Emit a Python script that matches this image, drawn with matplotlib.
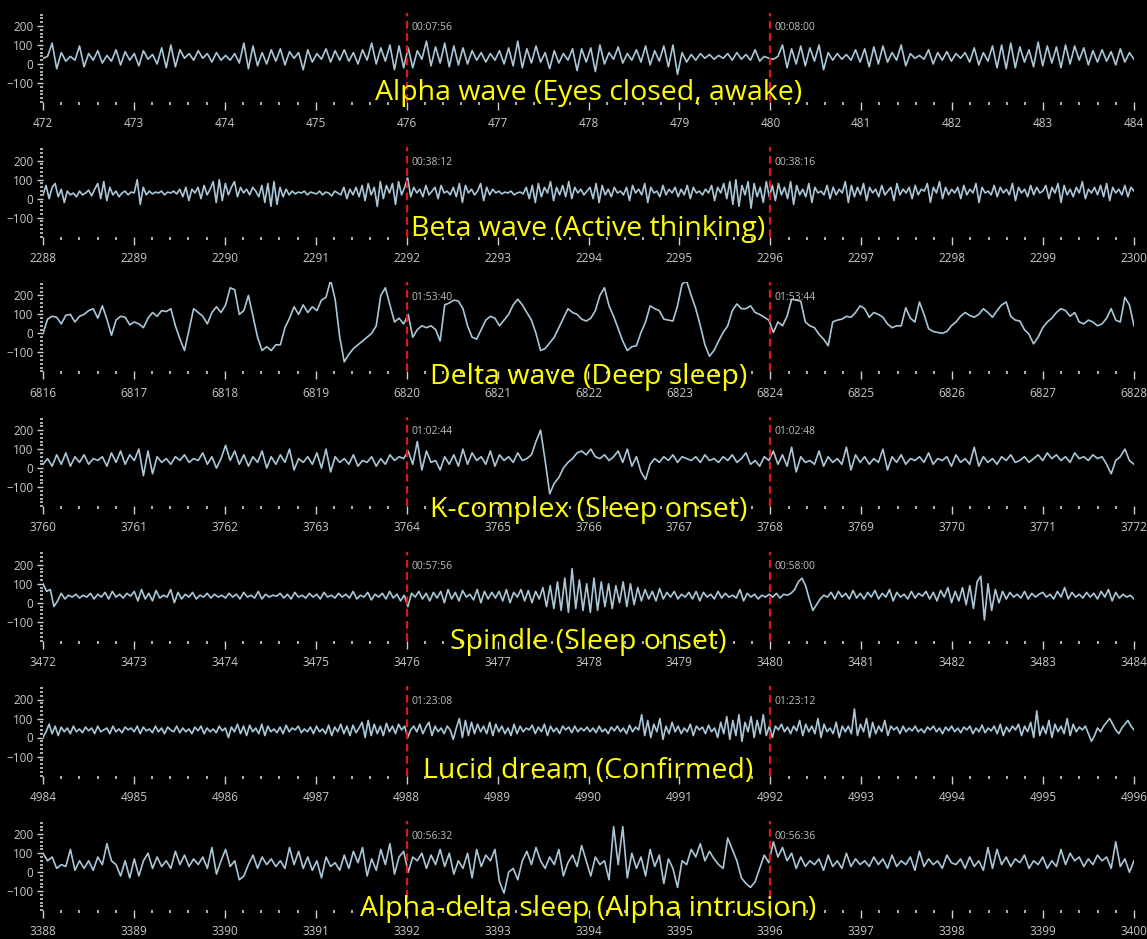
import numpy as np
import matplotlib
matplotlib.use("Agg")
import matplotlib.pyplot as plt
from matplotlib.ticker import MultipleLocator

# panel titles, window start (s) and event markers (s)
TITLES = [
    "Alpha wave (Eyes closed, awake)",
    "Beta wave (Active thinking)",
    "Delta wave (Deep sleep)",
    "K-complex (Sleep onset)",
    "Spindle (Sleep onset)",
    "Lucid dream (Confirmed)",
    "Alpha-delta sleep (Alpha intrusion)",
]
STARTS = [472, 2288, 6816, 3760, 3472, 4984, 3388]
MARKERS = [[476, 480], [2292, 2296], [6820, 6824], [3764, 3768],
           [3476, 3480], [4988, 4992], [3392, 3396]]
WINDOW = 12

# EEG amplitude (uV), one row per second
alpha = [
    30, 40, 110, -25, 60, 15, 40, 20, 95, -15, 55, 20, 70, 5, 45, 15, 75, -5, 65, 20,
    55, -10, 70, 25, 50, 0, 85, -20, 100, -15, 75, 30, 55, 20, 70, 30, 55, 10, 60, 20,
    45, 20, 55, 5, 110, -25, 95, -10, 60, 0, 75, 15, 80, -5, 65, 30, 60, -30, 75, 10,
    55, 25, 80, 10, 70, 20, 75, 15, 60, 0, 75, 20, 110, 0, 85, 15, 100, -30, 95, -20,
    85, -20, 70, 25, 120, -10, 90, 5, 110, -15, 95, -5, 85, 0, 70, 20, 60, 10, 55, 20,
    70, 0, 85, -10, 120, -20, 80, 5, 95, 10, 60, -25, 70, 5, 55, 20, 80, -35, 80, 10,
    85, -40, 100, 0, 60, 25, 90, 5, 55, 20, 75, 10, 95, -5, 70, 15, 95, -15, 100, -55,
    60, 10, 50, 20, 55, 30, 50, 25, 45, 30, 55, 20, 60, 25, 50, 20, 75, 15, 40, 30,
    25, 40, 100, -20, 80, 0, 95, -10, 85, 15, 100, -30, 60, 20, 55, 25, 50, 20, 75, 10,
    80, -15, 90, 0, 95, 10, 60, 20, 100, -10, 55, 30, 45, 25, 75, 0, 60, 20, 65, 15,
    55, 30, 60, 10, 85, -5, 60, 15, 95, -20, 100, -25, 110, -20, 90, 10, 75, -15, 115, -10,
    95, 5, 90, -20, 100, 0, 95, 20, 85, -5, 70, 10, 75, 15, 65, -5, 80, 10, 60, 25,
]

beta = [
    20, 70, 0, 60, 80, 10, 50, -20, 40, 20, 30, 10, 40, 20, 30, 45, 15, 50, 80, 0, 90, -10, 60, 20, 40, 10, 30, 40, 20, 35,
    30, 100, -30, 60, 20, 40, 25, 35, 30, 40, 20, 35, 30, 40, 25, 50, 10, 60, -10, 50, 30, 60, 0, 70, 20, 50, 90, -20, 100, -10,
    80, 20, 60, 90, 10, 60, 30, 50, 20, 60, 40, 10, 70, -20, 80, -40, 90, -30, 60, 10, 50, 20, 40, 25, 35, 30, 40, 20, 35, 30,
    25, 40, 20, 35, 30, 15, 40, 30, 20, 60, 0, 50, 20, 60, 10, 70, -10, 80, 20, 60, -40, 90, 0, 70, 30, 80, -30, 90, 20, 60,
    110, 10, 60, 30, 50, 10, 70, 20, 40, 60, 0, 70, 30, 40, 20, 60, 10, 80, -20, 70, 30, 50, 20, 40, 80, -10, 60, 20, 50, 30,
    40, 25, 35, 30, 40, 20, 30, 35, 25, 60, 0, 70, -20, 80, 10, 60, 30, 90, -10, 60, 20, 70, 10, 90, 0, 60, 30, 50, 20, 40,
    60, 0, 80, -20, 70, 20, 50, 10, 60, 30, 40, 20, 60, -10, 70, 30, 50, 20, 80, -20, 60, 30, 40, 10, 70, 20, 50, 30, 60, 10,
    50, 20, 70, 0, 60, 30, 40, 20, 50, 30, 70, -10, 60, 30, 80, 0, 90, -30, 100, -40, 70, 20, 90, -50, 80, 10, 60, -20, 90, 10,
    70, -10, 80, 20, 60, 0, 90, -30, 70, 20, 50, 10, 80, -20, 60, 30, 40, 20, 70, 0, 60, 20, 50, 30, 90, -20, 70, 10, 60, 20,
    80, -10, 60, 30, 50, 10, 70, 20, 40, 60, -10, 80, 20, 50, 30, 60, 0, 70, 20, 50, 40, 80, -20, 60, 30, 90, 0, 60, 20, 50,
    30, 60, 0, 70, 20, 50, 30, 80, -20, 60, 30, 40, 20, 70, 10, 60, 30, 50, 20, 80, -10, 60, 30, 50, 10, 70, 20, 60, 30, 40,
    70, 0, 60, 30, 80, -20, 70, 20, 50, 10, 60, 30, 90, 0, 50, 30, 60, 20, 70, 10, 80, -10, 60, 30, 50, 20, 70, 10, 60, 40,
]

delta = [
    0, 75, 90, 85, 50, 95, 100, 60, 90, 100, 120, 130, 80, 145, 75, -10, 70, 90, 85, 45,
    60, 50, 30, 80, 110, 90, 120, 115, 130, 40, -30, -90, 20, 130, 110, 90, 50, 110, 140, 110,
    150, 240, 230, 100, 120, 200, 90, -20, -90, -70, -90, -60, -60, 30, 80, 140, 100, 150, 110, 140,
    120, 175, 190, 280, 180, -20, -150, -110, -80, -60, -40, -20, 0, 40, 200, 240, 150, 60, 80, 50,
    100, -20, 20, 40, 30, 40, 20, -40, 150, 160, 175, 170, 130, 40, -20, -30, 20, 70, 90, 80,
    40, 70, 100, 150, 180, 150, 110, 70, 0, -90, -80, -50, -20, 30, 80, 130, 110, 100, 75, 65,
    80, 120, 200, 240, 145, 90, 25, -40, -90, -70, -65, 5, 60, 145, 130, 120, 75, 70, 65, 145,
    260, 275, 200, 130, 40, -60, -120, -90, -40, 5, 40, 120, 155, 130, 130, 145, 110, 100, 85, 70,
    5, 60, 40, 90, 180, 175, 170, 60, 40, 30, -5, -30, -65, 60, 70, 75, 90, 85, 110, 145,
    130, 85, 110, 100, 85, 50, 30, 40, 40, 135, 80, 60, 165, 100, 25, 10, 5, 0, 10, 40,
    60, 90, 110, 95, 85, 100, 130, 110, 85, 120, 150, 165, 90, 70, 65, 20, -5, -55, -20, 30,
    60, 80, 110, 130, 120, 90, 110, 60, 50, 70, 60, 40, 50, 80, 130, 70, 60, 190, 150, 40,
]

kcomplex = [
    20, 50, 10, 70, 20, 80, 10, 60, 30, 70, 20, 50, 40, 60, 10, 80, 30, 90, 20, 70,
    40, 100, -40, 90, -30, 60, 30, 50, 20, 60, 40, 70, 30, 50, 40, 80, 20, 60, 0, 50,
    120, 40, 90, 20, 70, 10, 60, 30, 90, 0, 60, 20, 70, 30, 100, -10, 50, 30, 60, 20,
    80, 0, 100, -20, 60, 30, 50, 20, 70, 10, 40, 30, 60, 10, 50, 20, 70, 40, 60, 50,
    90, 20, 140, -10, 90, 30, 40, -10, 60, 20, 70, 10, 100, 20, 80, 40, 60, 20, 90, 10,
    70, 40, 60, 30, 80, 40, 50, 70, 140, 200, 40, -135, -80, -50, 0, 30, 50, 80, 90, 70,
    100, 60, 50, 70, 40, 60, 90, 30, 100, 10, 60, -20, -60, 20, 50, 30, 60, 40, 70, 30,
    60, 50, 40, 60, 30, 70, 40, 50, 30, 60, 40, 70, 30, 50, 80, 20, 40, 10, 60, 40,
    90, 20, 70, 10, 110, -20, 60, 30, 40, 20, 90, 10, 60, 30, 50, 20, 110, -10, 70, 30,
    60, 20, 50, 30, 100, -10, 60, 30, 70, 20, 50, 40, 60, 30, 80, 20, 50, 40, 60, 10,
    70, 30, 50, 20, 110, 10, 60, 30, 50, 20, 60, 40, 70, 30, 40, 60, 30, 50, 70, 40,
    80, 50, 70, 40, 60, 30, 80, 50, 60, 40, 70, 50, 60, 20, -30, 40, 60, 100, 40, 20,
]

spindle = [
    100, 60, 70, -20, 10, 50, 20, 40, 30, 45, 25, 40, 30, 50, 20, 45, 30, 55, 20, 60, 30, 45, 25, 50, 35,
    60, 10, 70, 20, 50, 10, 65, 25, 40, 30, 70, 0, 55, 20, 45, 30, 55, 20, 40, 30, 50, 25, 45, 30, 40,
    25, 50, 30, 45, 20, 55, 30, 40, 25, 60, 20, 45, 30, 40, 35, 50, 25, 45, 20, 55, 30, 40, 25, 50, 30,
    45, 20, 55, 30, 40, 25, 50, 30, 45, 25, 60, 20, 40, 30, 55, 15, 45, 30, 50, 20, 60, 25, 45, 10, 40,
    -20, 50, 30, 60, 20, 50, 10, 55, 25, 60, 0, 70, 20, 55, 10, 65, 30, 45, 15, 70, 0, 60, 20, 55, 25,
    60, 10, 70, 0, 55, 30, 70, 10, 65, 0, 60, 20, 80, -20, 90, -30, 110, -40, 130, -50, 180, -30, 120, -40, 100,
    -50, 130, -40, 110, -20, 100, -30, 90, 0, 110, -20, 100, -10, 80, 10, 70, 20, 60, 10, 75, 20, 55, 30, 60, 20,
    45, 30, 55, 20, 60, 10, 55, 30, 45, 20, 60, 25, 50, 30, 40, 25, 70, 10, 50, 30, 45, 20, 40, 30, 45,
    30, 50, 25, 45, 40, 50, 70, 110, 130, 90, 20, -40, -10, 20, 40, 30, 55, 20, 60, 30, 50, 20, 65, 25, 50,
    20, 55, 30, 65, 20, 50, 30, 70, 10, 55, 30, 45, 20, 60, 25, 50, 35, 60, 20, 55, 10, 65, 30, 80, 0,
    60, 10, 80, -10, 90, -30, 110, 140, -90, 100, -40, 70, 0, 60, 20, 55, 30, 45, 25, 60, 20, 50, 30, 45, 55,
    30, 45, 20, 60, 30, 80, 20, 55, 30, 45, 25, 55, 30, 50, 20, 60, 30, 70, 10, 55, 25, 45, 30, 40, 20,
]

lucid = [
    0, 30, 70, 20, 60, 10, 55, 30, 50, 20, 60, 30, 45, 25, 55, 35, 50, 20, 60, 30, 40, 50, 20, 60, 30, 45, 25, 55, 40, 50,
    30, 60, 20, 55, 35, 45, 25, 60, 30, 50, 20, 55, 40, 30, 60, 25, 50, 30, 45, 20, 55, 35, 60, 20, 50, 30, 45, 25, 60, 35,
    50, 0, 55, 30, 70, 20, 60, 10, 65, 30, 50, 20, 70, 10, 60, 30, 45, 25, 55, 20, 65, 30, 50, 40, 60, 25, 45, 30, 55, 20,
    60, 30, 45, 20, 65, 10, 55, 30, 70, 20, 60, 10, 65, 25, 50, 80, 0, 90, 10, 70, 20, 60, 10, 75, 30, 60, 20, 70, 40, 60,
    0, 40, 60, 30, 70, 20, 55, 80, 10, 60, 30, 50, 20, 60, 40, -10, 50, 100, 0, 90, 10, 80, 20, 70, 30, 60, 20, 80, 10, 70,
    30, 60, 20, 50, 10, 70, 20, 60, 30, 50, 40, 65, 20, 55, 30, 70, 10, 60, 30, 50, 20, 60, 40, 55, 25, 60, 30, 50, 35, 55,
    30, 50, 25, 60, 30, 45, 20, 55, 35, 60, 30, 50, 20, 65, 30, 55, 40, 120, 10, 90, 0, 70, 30, 100, -10, 60, 20, 80, 30, 60,
    20, 50, 30, 70, 10, 60, 40, 55, 20, 65, 30, 50, 0, 80, 20, 110, -10, 90, 10, 120, -20, 80, 30, 110, 0, 90, 20, 120, 10, 60,
    0, 60, 40, 70, 30, 55, 20, 60, 35, 90, 10, 70, 30, 60, 20, 100, 0, 70, 30, 50, 20, 80, 0, 60, 30, 60, 20, 150, 10, 70,
    30, 100, 0, 80, 20, 60, 30, 90, 10, 60, 40, 55, 20, 60, 30, 50, 35, 60, 30, 45, 25, 55, 40, 60, 30, 50, 20, 55, 35, 60,
    30, 50, 25, 55, 40, 60, 20, 50, 30, 65, 25, 50, 35, 60, 20, 70, 10, 55, 30, 60, 40, 70, 10, 60, 30, 80, 0, 140, 10, 60,
    20, 90, 0, 70, 30, 60, 20, 100, 10, 70, 30, 55, 40, 60, 20, -20, 10, 50, 30, 60, 80, 100, 70, 40, 20, 50, 70, 90, 60, 40,
]

alpha_delta = [
    100, 60, 80, 20, 40, 30, 120, 10, 60, 20, 60, 10, 80, 40, 150, 60, 40, -20, 60, -30,
    70, -20, 60, 100, 20, 80, 30, 60, 20, 110, 40, 90, 30, 70, 40, 80, 20, 130, -10, 60,
    120, 30, 60, -40, -20, 40, 90, 20, 80, 40, 70, 30, 60, 20, 130, 40, 110, 20, 80, 10,
    60, -30, 80, 30, 50, 10, 90, 20, 110, 50, 130, -20, 70, 10, 120, 40, 150, -10, 80, 110,
    0, 80, 60, 100, 20, 90, 40, 120, 30, 100, -10, 60, 20, 100, -30, 120, 30, 90, 60, 120,
    -50, -110, 0, 20, -40, 60, 110, 40, 130, 60, 20, 80, 40, 120, -20, 50, 90, 30, 140, 60,
    -20, 80, 40, 60, -40, 240, 40, 240, -30, 100, 20, 80, -20, 120, 30, 90, -60, 70, 20, -80,
    60, 40, 120, 80, 150, 60, 110, 70, 40, 20, 180, 120, 60, -30, -60, -80, -50, 20, 90, 50,
    160, 80, 130, 60, 100, 20, 80, 30, 60, 40, 70, 10, 90, 30, 60, 20, 100, 30, 70, 40,
    60, 30, 80, 40, 70, 20, 90, 30, 60, 40, 80, 10, 110, 30, 70, 40, 60, 20, 90, 50,
    40, 70, 20, 80, 30, 60, 10, 130, 20, 120, 40, 80, 30, 70, 50, 90, 20, 60, 40, 80,
    20, 60, 30, 120, 40, 100, 60, 80, 30, 70, 40, 90, 60, 80, 20, 160, 30, 70, 0, 60,
]

SIGNALS = [alpha, beta, delta, kcomplex, spindle, lucid, alpha_delta]

TRACE = "#a9c7d8"
TICK = "#d0d0d0"
LABEL = "#c8c8c8"
FONT = ["Open Sans", "DejaVu Sans"]
TITLE_Y = [-153, -158, -232, -221, -205, -174, -195]


def hms(sec):
    return f"{sec // 3600:02d}:{sec % 3600 // 60:02d}:{sec % 60:02d}"


plt.rcParams["font.family"] = FONT
fig = plt.figure(figsize=(11.47, 9.39), dpi=100, facecolor="black")

W, H = 1147, 939
pitch = 134.7
for i, (title, start, marks, sig) in enumerate(zip(TITLES, STARTS, MARKERS, SIGNALS)):
    zero = 64 + pitch * i
    top, bot = zero - 270 * 0.19, zero + 200 * 0.19
    ax = fig.add_axes([43 / W, 1 - bot / H, (1134 - 43) / W, (bot - top) / H])
    ax.set_facecolor("black")

    t = np.linspace(start, start + WINDOW, len(sig))
    ax.plot(t, sig, color=TRACE, lw=1.2)

    for m in marks:
        ax.axvline(m, color="#e01515", lw=1.6, ls=(0, (3.5, 2)))
        ax.text(m + 0.05, 190, hms(m), color="#bdbdbd", fontsize=7.5,
                va="center", ha="left")

    ax.set_xlim(start, start + WINDOW)
    ax.set_ylim(-200, 270)
    for s in ax.spines.values():
        s.set_visible(False)

    ax.xaxis.set_major_locator(MultipleLocator(1))
    ax.xaxis.set_minor_locator(MultipleLocator(0.2))
    ax.set_yticks([-100, 0, 100, 200])
    ax.yaxis.set_minor_locator(MultipleLocator(20))
    ax.tick_params(axis="both", which="major", colors=TICK, labelcolor=LABEL,
                   labelsize=8.5, width=1)
    ax.tick_params(axis="x", which="major", length=6, pad=5)
    ax.tick_params(axis="x", which="minor", length=2, width=1.2, colors=TICK)
    ax.tick_params(axis="y", which="major", length=4, pad=3)
    ax.tick_params(axis="y", which="minor", length=2, width=1.2, colors=TICK)

    ax.text(start + WINDOW / 2, TITLE_Y[i], title, color="#ffff00",
            fontsize=20.5, ha="center", va="center", clip_on=False, zorder=5)

fig.savefig("out.png", dpi=100, facecolor="black")
